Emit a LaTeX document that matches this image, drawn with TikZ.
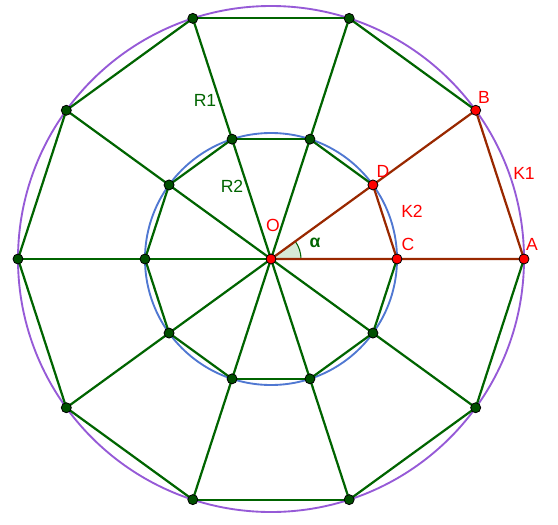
\documentclass[tikz,border=0pt]{standalone}
\usepackage{fontspec}
\setmainfont{Liberation Sans}
\usetikzlibrary{calc}
\usetikzlibrary{positioning}
\usetikzlibrary{arrows.meta}

\definecolor{geogreen}{RGB}{0,100,0}
\definecolor{geored}{RGB}{153,40,0}
\definecolor{geopurple}{RGB}{150,90,215}
\definecolor{geoblue}{RGB}{80,120,210}
\definecolor{anglefill}{RGB}{215,235,215}

\tikzset{
  gline/.style={geogreen, line width=1.9pt},
  rline/.style={geored, line width=1.9pt},
  gdot/.style={circle, fill=geogreen!80!black, draw=black, line width=0.7pt, inner sep=0pt, minimum size=0.3cm},
  rdot/.style={circle, fill=red, draw=black, line width=0.7pt, inner sep=0pt, minimum size=0.3cm},
  glabel/.style={text=geogreen, font=\fontsize{15}{17}\selectfont},
  rlabel/.style={text=red, font=\fontsize{15}{17}\selectfont}
}

\begin{document}
\begin{tikzpicture}
      \useasboundingbox (-8.13, -7.95) rectangle (8.61, 7.77);

      \coordinate (O) at (0, 0);
      \foreach \i in {0,...,9} {
        \coordinate (P\i) at (\i*36:7.59);
        \coordinate (Q\i) at (\i*36:3.78);
      }

      % circles
      \draw[geopurple, line width=1.6pt] (O) circle (7.59);
      \draw[geoblue, line width=1.6pt] (O) circle (3.78);

      % angle alpha
      \filldraw[fill=anglefill, draw=geogreen, line width=0.9pt] (O) -- (0.9, 0) arc (0:36:0.9) -- cycle;

      % spokes and decagons
      \foreach \i in {2,...,9} {
        \draw[gline] (O) -- (P\i);
      }
      \foreach \i/\j in {1/2,2/3,3/4,4/5,5/6,6/7,7/8,8/9,9/0} {
        \draw[gline] (P\i) -- (P\j);
        \draw[gline] (Q\i) -- (Q\j);
      }
      \draw[rline] (O) -- (P0) -- (P1) -- (O);
      \draw[rline] (Q0) -- (Q1);

      % points
      \foreach \i in {2,...,9} {
        \node[gdot] (p\i) at (P\i) {};
        \node[gdot] (q\i) at (Q\i) {};
      }
      \node[rdot] (A) at (P0) {};
      \node[rdot] (B) at (P1) {};
      \node[rdot] (C) at (Q0) {};
      \node[rdot] (D) at (Q1) {};
      \node[rdot] (Ocenter) at (O) {};

      % labels
      \node[glabel] (R1) at (-1.98, 4.77) {R1};
      \node[glabel] (R2) at (-1.17, 2.19) {R2};
      \node[glabel] (alpha) at (1.32, 0.48) {\bfseries α};
      \node[rlabel] (labO) at (0.06, 1.02) {O};
      \node[rlabel] (labA) at (7.83, 0.45) {A};
      \node[rlabel] (labB) at (6.39, 4.86) {B};
      \node[rlabel] (labC) at (4.11, 0.45) {C};
      \node[rlabel] (labD) at (3.36, 2.64) {D};
      \node[rlabel] (K1) at (7.59, 2.58) {K1};
      \node[rlabel] (K2) at (4.23, 1.44) {K2};
    \end{tikzpicture}
\end{document}
